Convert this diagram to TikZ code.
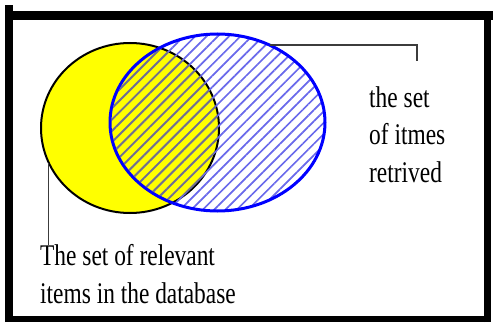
\documentclass[tikz,border=0pt]{standalone}
\usepackage{fontspec}
\setmainfont{Liberation Serif}
\newfontfamily\lblfont[FakeStretch=0.78]{Liberation Serif}
\usepackage{tikz}
\usetikzlibrary{shapes.geometric,patterns.meta,calc}
\definecolor{venn_yellow}{RGB}{255, 255, 0}
\definecolor{venn_blue}{RGB}{0, 0, 255}
\definecolor{venn_hatch}{RGB}{105, 105, 235}
\definecolor{venn_both}{RGB}{115, 115, 135}
\definecolor{lead_grey}{RGB}{60, 60, 60}
\tikzstyle{rel}=[ellipse,fill=venn_yellow,draw=black,line width=2pt,
  inner sep=0pt,outer sep=0pt,minimum width=178pt,minimum height=170pt]
\tikzstyle{ret}=[ellipse,draw=venn_blue,line width=3pt,inner sep=0pt,outer sep=0pt,
  pattern={Lines[angle=45,distance=8pt,line width=1.7pt]},pattern color=venn_hatch,
  minimum width=215pt,minimum height=177pt]
\tikzstyle{both}=[pattern={Lines[angle=45,distance=8pt,line width=1.7pt]},
  pattern color=venn_both]
\tikzstyle{lbl}=[anchor=north west,inner sep=0pt,align=left,
  font=\lblfont\fontsize{30}{37.5}\selectfont]
\tikzstyle{lead}=[draw=lead_grey,line width=1.3pt]
\tikzstyle{frame}=[draw=black]
\tikzstyle{none}=[]

\begin{document}
\begin{tikzpicture}[x=1pt, y=1pt]
            \useasboundingbox (0, 0) rectangle (493, 322);
            \node [style=rel] (0) at (130, 194) {};
            \node [style=ret] (1) at (217.5, 199.5) {};
            % hatch inside both sets looks grey on the yellow
            \begin{scope}
                \clip (0.center) ellipse [x radius=88, y radius=84];
                \clip (1.center) ellipse [x radius=106, y radius=87];
                \path [style=both] (0, 0) rectangle (493, 322);
            \end{scope}
            \node [style=lbl] (2) at (369, 236) {the set\\of itmes\\retrived};
            \node [style=lbl] (3) at (40, 77.5) {The set of relevant\\items in the database};
            \coordinate (4) at (417, 261);
            \draw [style=lead] (1.56) -| (4);
            \draw [style=lead] (0.203) -- (0.203 |- 3.north);
            \draw [style=frame, line width=9pt] (5, 306.5) to (493, 306.5);
            \draw [style=frame, line width=8pt] (9, 0) to (9, 317);
            \draw [style=frame, line width=7pt] (487, 0) to (487, 302);
            \draw [style=frame, line width=6pt] (5, 3) to (491, 3);
    \end{tikzpicture}
\end{document}
